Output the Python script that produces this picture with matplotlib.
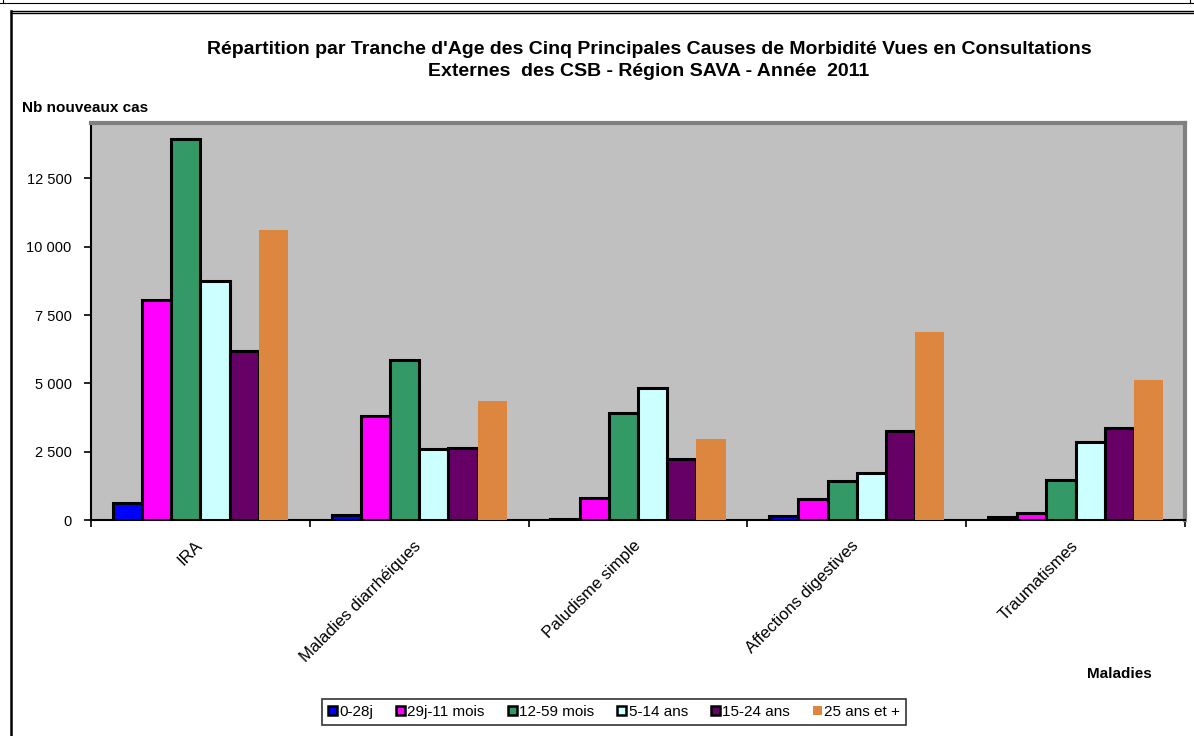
import matplotlib.pyplot as plt
import numpy as np
from matplotlib.lines import Line2D
from matplotlib.ticker import FuncFormatter, FixedLocator

plt.rcParams['font.family'] = ['Liberation Sans', 'DejaVu Sans']

maladies = ['IRA', 'Maladies diarrhéiques', 'Paludisme simple',
            'Affections digestives', 'Traumatismes']
tranches = ['0-28j', '29j-11 mois', '12-59 mois', '5-14 ans', '15-24 ans', '25 ans et +']

# nouveaux cas par tranche d'age (une liste par tranche, dans l'ordre des maladies)
cas_0_28j = [630, 180, 20, 140, 120]
cas_29j_11m = [8050, 3820, 815, 770, 270]
cas_12_59m = [13960, 5855, 3915, 1440, 1460]
cas_5_14a = [8745, 2590, 4840, 1720, 2865]
cas_15_24a = [6175, 2625, 2245, 3245, 3355]
cas_25_plus = [10610, 4355, 2965, 6880, 5110]

series = [cas_0_28j, cas_29j_11m, cas_12_59m, cas_5_14a, cas_15_24a, cas_25_plus]
couleurs = ['#0000FF', '#FF00FF', '#339966', '#CCFFFF', '#660066', '#DD8640']
bords = ['black', 'black', 'black', 'black', 'black', 'none']

W, H = 1194, 736
fig = plt.figure(figsize=(W / 100, H / 100), dpi=100)

x0, x1, ytop, ybot = 91, 1185, 123, 520
ax = fig.add_axes([x0 / W, 1 - ybot / H, (x1 - x0) / W, (ybot - ytop) / H])
ax.set_facecolor('#C0C0C0')

n = len(series)
gap = 1.5
bw = 1 / (n + gap)
x = np.arange(len(maladies))
for i, (vals, c, e) in enumerate(zip(series, couleurs, bords)):
    pos = x - 0.5 + bw * (gap / 2 + i + 0.5)
    ax.bar(pos, vals, width=bw, color=c, edgecolor=e,
           linewidth=2.2 if e != 'none' else 0, label=tranches[i], zorder=3)

ax.set_xlim(-0.5, len(maladies) - 0.5)
ax.set_ylim(0, 14530)

ax.yaxis.set_major_locator(FixedLocator([0, 2500, 5000, 7500, 10000, 12500]))
ax.yaxis.set_major_formatter(FuncFormatter(lambda v, p: f'{int(v):,}'.replace(',', ' ')))
ax.tick_params(axis='y', direction='out', length=5, width=1.2, labelsize=10.5, pad=9)

ax.set_xticks(np.arange(len(maladies) + 1) - 0.5)
ax.set_xticklabels([])
ax.tick_params(axis='x', direction='out', length=5, width=1.2)
for xi, nom in zip(x, maladies):
    ax.annotate(nom, xy=(xi, 0), xycoords=('data', 'axes fraction'),
                xytext=(-4, -13), textcoords='offset points',
                rotation=45, ha='right', va='top', rotation_mode='anchor',
                fontsize=12)

for s in ['top', 'right']:
    ax.spines[s].set_color('#808080')
    ax.spines[s].set_linewidth(3)
ax.spines['left'].set_linewidth(1.5)
ax.spines['bottom'].set_linewidth(1.5)

fig.text(649 / W, 1 - 49 / H,
         "Répartition par Tranche d'Age des Cinq Principales Causes de Morbidité Vues en Consultations",
         ha='center', va='center', fontsize=14, fontweight='bold')
fig.text(649 / W, 1 - 72 / H, "Externes  des CSB - Région SAVA - Année  2011",
         ha='center', va='center', fontsize=14, fontweight='bold')
fig.text(22 / W, 1 - 108 / H, 'Nb nouveaux cas', ha='left', va='center',
         fontsize=11, fontweight='bold')
fig.text(1119 / W, 1 - 674 / H, 'Maladies', ha='center', va='center',
         fontsize=11, fontweight='bold')

handles = [plt.Rectangle((0, 0), 1, 1, facecolor=c, edgecolor=('black' if e != 'none' else 'none'),
                         linewidth=1.8) for c, e in zip(couleurs, bords)]
leg = fig.legend(handles, tranches, loc='center', bbox_to_anchor=(614 / W, 1 - 712 / H),
                 ncol=6, frameon=True, fancybox=False, edgecolor='black', fontsize=11,
                 handlelength=0.6, handleheight=0.6, handletextpad=0.15,
                 columnspacing=1.5, borderpad=0.4)
leg.get_frame().set_linewidth(1.2)

# cadre autour du graphique
def trait(xs, ys, lw=1.0, c='black'):
    fig.add_artist(Line2D([v / W for v in xs], [1 - v / H for v in ys],
                          color=c, linewidth=lw, transform=fig.transFigure))

trait([0, W], [3, 3], lw=0.8)
trait([3, 3], [0, 3], lw=0.8)
trait([1190, 1190], [0, 3], lw=0.8)
trait([11, W], [10.5, 10.5], lw=1.0)
trait([11, W], [12.5, 12.5], lw=1.0)
trait([11, 11], [10.5, H], lw=1.8)

fig.savefig('out.png', dpi=100)
